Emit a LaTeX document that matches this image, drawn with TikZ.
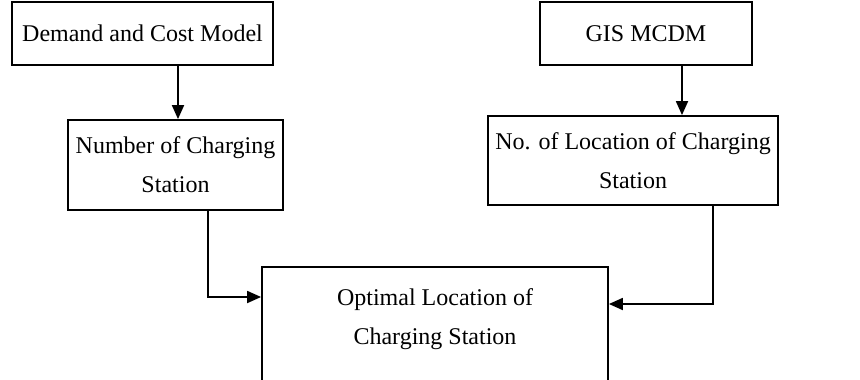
\documentclass[tikz,border=0pt]{standalone}
\usepackage{fontspec}
\setmainfont{Liberation Serif}
\usetikzlibrary{arrows.meta}
\begin{document}
\begin{tikzpicture}[x=1pt,y=-1pt,
  boxnode/.style={draw=black,line width=1.8pt,align=center,inner sep=0pt,
    font=\fontsize{24}{39}\selectfont},
  arr/.style={line width=1.8pt,-{Triangle[length=14pt,width=12pt]}}]
\useasboundingbox (0,0) rectangle (860,380);
\clip (0,0) rectangle (860,380);
\fill[white] (0,0) rectangle (860,380);
\node[boxnode,minimum width=261pt,minimum height=63pt] (dcm) at (142.5,33.5) {Demand and Cost Model};
\node[boxnode,minimum width=212pt,minimum height=63pt] (gis) at (646,33.5) {GIS MCDM};
\node[boxnode,minimum width=215pt,minimum height=90pt] (ncs) at (175.5,165) {Number of Charging\\Station};
\node[boxnode,minimum width=290pt,minimum height=89pt] (nlc) at (633,160.5) {No. of Location of Charging\\Station};
\node[boxnode,minimum width=346pt,minimum height=150pt] (olc) at (435,342) {};
\node[font=\fontsize{24}{39}\selectfont,align=center] (olct) at (435,319) {Optimal Location of\\Charging Station};
\coordinate (a1) at (178,0);
\coordinate (a2) at (682,0);
\coordinate (l1) at (208,297);
\coordinate (r1) at (713,304);
\draw[arr] (dcm.south -| a1) -- (ncs.north -| a1);
\draw[arr] (gis.south -| a2) -- (nlc.north -| a2);
\draw[arr] (ncs.south -| l1) |- (l1 -| olc.west);
\draw[arr] (nlc.south -| r1) |- (r1 -| olc.east);
\end{tikzpicture}
\end{document}
